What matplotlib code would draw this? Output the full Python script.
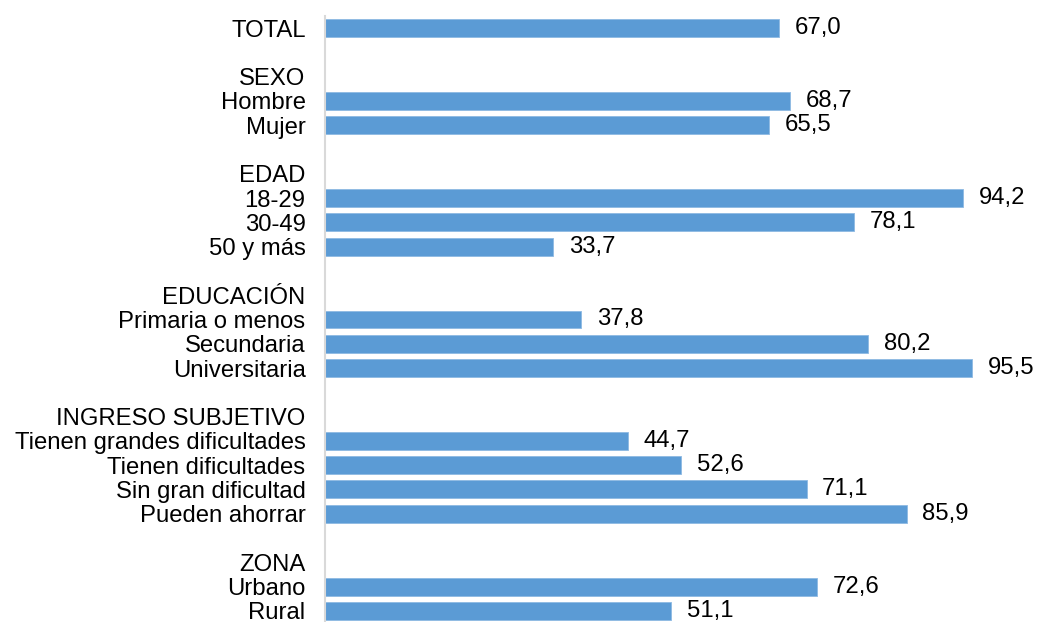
import numpy as np
import matplotlib
matplotlib.use("Agg")
import matplotlib.pyplot as plt

# rows top to bottom; None = header / spacer row without bar
labels = ["TOTAL", "",
          "SEXO", "Hombre", "Mujer", "",
          "EDAD", "18-29", "30-49", "50 y más", "",
          "EDUCACIÓN", "Primaria o menos", "Secundaria", "Universitaria", "",
          "INGRESO SUBJETIVO", "Tienen grandes dificultades", "Tienen dificultades",
          "Sin gran dificultad", "Pueden ahorrar", "",
          "ZONA", "Urbano", "Rural"]
values = [67.0, None,
          None, 68.7, 65.5, None,
          None, 94.2, 78.1, 33.7, None,
          None, 37.8, 80.2, 95.5, None,
          None, 44.7, 52.6, 71.1, 85.9, None,
          None, 72.6, 51.1]

plt.rcParams['font.family'] = ['Liberation Sans', 'DejaVu Sans']
fs = 17.2

fig = plt.figure(figsize=(10.39, 6.22), dpi=100)
ax = fig.add_axes([325 / 1039, -1 / 622, 1 - 325 / 1039, (622 - 15) / 622])

y = np.arange(len(labels))
vals = np.array([np.nan if v is None else v for v in values])
ax.barh(y, np.nan_to_num(vals), height=0.74, color='#5B9BD5', edgecolor='#8DB9E3', linewidth=0.6)

for yi, v in zip(y, vals):
    if not np.isnan(v):
        ax.text(v + 2.3, yi, f"{v:.1f}".replace('.', ','), va='center', ha='left', fontsize=fs)

ax.set_yticks(y)
ax.set_yticklabels(labels, fontsize=fs)
ax.tick_params(axis='y', length=0, pad=14)
ax.set_ylim(len(labels) - 0.5, -0.5)
ax.set_xlim(0, 105.4)
ax.set_xticks([])
for s in ['top', 'right', 'bottom']:
    ax.spines[s].set_visible(False)
ax.spines['left'].set_color('#D9D9D9')
ax.spines['left'].set_linewidth(1.5)

fig.savefig("out.png", dpi=100)
